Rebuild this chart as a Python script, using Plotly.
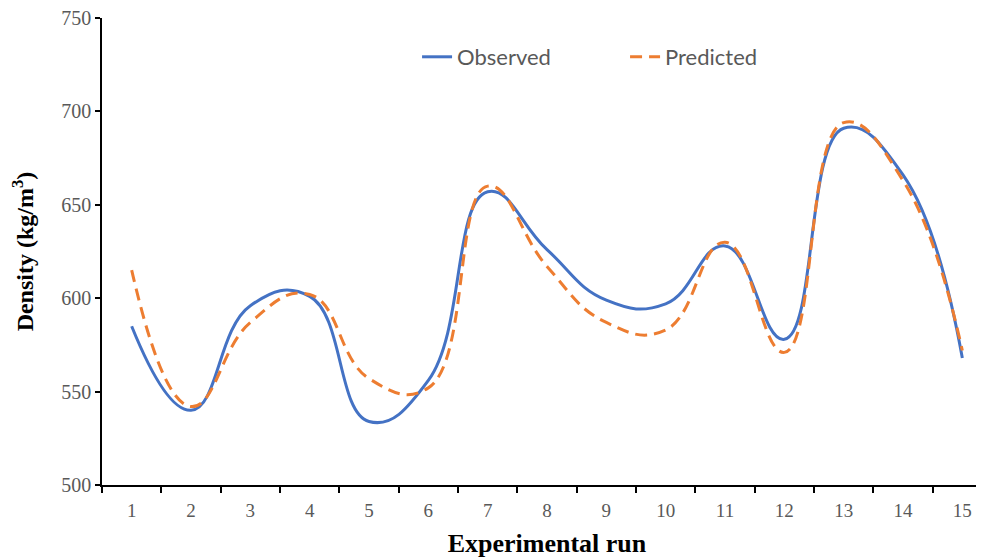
import plotly.graph_objects as go

runs = [str(i) for i in range(1, 16)]
observed = [585, 540, 596, 601, 534, 556, 657, 626, 599, 597, 628, 578, 691, 666, 568]
predicted = [615, 542, 587, 602, 557, 552, 660, 617, 587, 583, 630, 571, 694, 663, 572]
y_ticks = [500, 550, 600, 650, 700, 750]

fig = go.Figure()
fig.add_trace(go.Scatter(x=runs, y=observed, name="Observed", mode="lines",
                         line=dict(color="#4472C4", width=3, shape="spline", smoothing=1.3)))
fig.add_trace(go.Scatter(x=runs, y=predicted, name="Predicted", mode="lines",
                         line=dict(color="#ED7D31", width=3, shape="spline", smoothing=1.3,
                                   dash="12px,7px")))

serif = "Liberation Serif, Times New Roman, serif"
fig.update_layout(
    width=984, height=560,
    margin=dict(l=94, r=0, t=10, b=83),
    paper_bgcolor="white", plot_bgcolor="white",
    showlegend=True,
    legend=dict(orientation="h", x=0.354, y=0.9165, xanchor="left", yanchor="middle",
                font=dict(family="Lato, Open Sans, sans-serif", size=22, color="#595959"),
                entrywidth=163, bgcolor="rgba(0,0,0,0)"),
    xaxis=dict(type="category", range=[-0.5, 14.5], tickson="boundaries",
               showline=True, linecolor="black", linewidth=1.5,
               ticks="outside", ticklen=6, tickcolor="black", tickwidth=1.5,
               showgrid=False, zeroline=False, ticklabelstandoff=7,
               ticklabeloverflow="allow",
               tickfont=dict(family=serif, size=19, color="#595959"),
               title=dict(text="<b>Experimental run</b>", standoff=14,
                          font=dict(family=serif, size=26, color="black"))),
    yaxis=dict(range=[500, 750], tickvals=y_ticks,
               showline=True, linecolor="black", linewidth=1.5,
               ticks="outside", ticklen=5, tickcolor="black", tickwidth=1.5,
               showgrid=False, zeroline=False, ticklabeloverflow="allow",
               tickfont=dict(family=serif, size=20, color="#595959"),
               title=dict(text="<b>Density (kg/m<sup>3</sup>)</b>", standoff=22,
                          font=dict(family=serif, size=24, color="black"))),
)

fig.write_html("out.html")
